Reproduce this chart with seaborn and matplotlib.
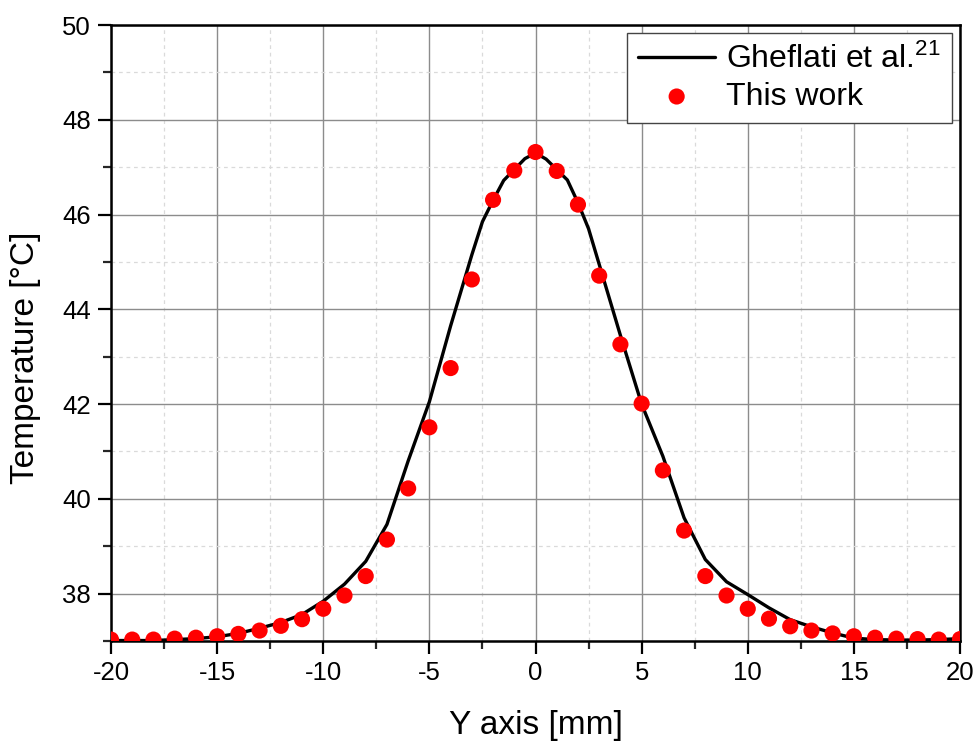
import numpy as np
import pandas as pd
import seaborn as sns
import matplotlib
matplotlib.use("Agg")
import matplotlib.pyplot as plt
from matplotlib.ticker import MultipleLocator

# reference curve (Gheflati et al.)
ref_y = [-20, -18, -17, -16, -15, -14, -13, -12, -11, -10, -9, -8, -7, -6, -5, -4, -3,
         -2.5, -2, -1.5, -1, -0.5, 0, 0.5, 1, 1.5, 2, 2.5, 3, 4, 5, 6, 7, 8, 9, 10,
         11, 12, 13, 14, 15, 16, 17, 18, 19, 20]
ref_t = [37.01, 37.01, 37.03, 37.05, 37.09, 37.16, 37.27, 37.39, 37.56, 37.84, 38.20,
         38.68, 39.46, 40.80, 42.05, 43.65, 45.15, 45.85, 46.30, 46.72, 46.95, 47.18,
         47.30, 47.17, 46.95, 46.73, 46.25, 45.70, 44.95, 43.45, 42.00, 40.90, 39.60,
         38.72, 38.25, 37.98, 37.70, 37.45, 37.30, 37.17, 37.06, 37.03, 37.02, 37.02,
         37.03, 37.05]

# this work
pts_y = list(range(-20, 21))
pts_t = [37.03, 37.03, 37.03, 37.05, 37.07, 37.10, 37.15, 37.22, 37.32, 37.46, 37.68,
         37.96, 38.37, 39.14, 40.22, 41.51, 42.76, 44.63, 46.31, 46.93, 47.32, 46.92,
         46.21, 44.71, 43.26, 42.01, 40.60, 39.33, 38.37, 37.96, 37.68, 37.47, 37.31,
         37.22, 37.16, 37.10, 37.07, 37.05, 37.04, 37.03, 37.04]

ref = pd.DataFrame({"y": ref_y, "t": ref_t})
pts = pd.DataFrame({"y": pts_y, "t": pts_t})

sns.set_style("ticks")
plt.rcParams['font.family'] = ['Liberation Sans', 'DejaVu Sans']
plt.rcParams['mathtext.fontset'] = 'custom'
plt.rcParams['mathtext.rm'] = 'Liberation Sans'
plt.rcParams['mathtext.default'] = 'regular'
plt.rcParams['axes.unicode_minus'] = False
plt.rcParams['text.color'] = 'black'
plt.rcParams['axes.labelcolor'] = 'black'

fig = plt.figure(figsize=(9.79, 7.45), dpi=100)
ax = fig.add_axes([0.1134, 0.1396, 0.8672, 0.8268])

sns.lineplot(data=ref, x="y", y="t", ax=ax, color="black", lw=2.4,
             label="Gheflati et al.$^{21}$", zorder=3, sort=False)
sns.scatterplot(data=pts, x="y", y="t", ax=ax, color="#ff0000", s=135,
                edgecolor="none", label="This work", zorder=4)

ax.set_xlim(-20, 20)
ax.set_ylim(37, 50)
ax.xaxis.set_major_locator(MultipleLocator(5))
ax.xaxis.set_minor_locator(MultipleLocator(2.5))
ax.yaxis.set_major_locator(MultipleLocator(2))
ax.yaxis.set_minor_locator(MultipleLocator(1))

ax.grid(which="major", color="#8c8c8c", lw=1.0, ls="-")
ax.grid(which="minor", color="#dadada", lw=0.9, ls=(0, (3, 3)))
ax.set_axisbelow(True)

for s in ax.spines.values():
    s.set_linewidth(1.8)
    s.set_color("black")
ax.tick_params(which="major", direction="out", length=9.5, width=1.6, labelsize=18.5,
               colors="black", pad=5)
ax.tick_params(which="minor", direction="out", length=5.5, width=1.6)

ax.set_xlabel("Y axis [mm]", fontsize=24)
ax.set_ylabel("Temperature [°C]", fontsize=24)
ax.xaxis.set_label_coords(0.5, -0.112)
ax.yaxis.set_label_coords(-0.082, 0.46)

leg = ax.legend(loc="upper right", fontsize=23, frameon=True, fancybox=False,
                edgecolor="#444444", framealpha=1, borderpad=0.35,
                handlelength=2.4, handletextpad=0.35, labelspacing=0.2,
                borderaxespad=0.25)
leg.get_frame().set_linewidth(1.0)

fig.savefig("out.png", dpi=100)
